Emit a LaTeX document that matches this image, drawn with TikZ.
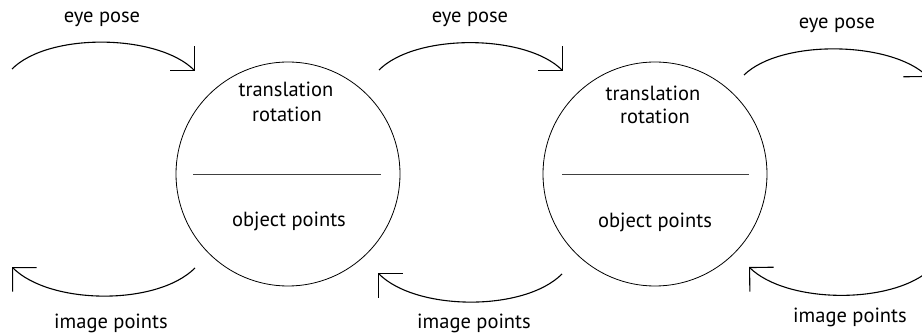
\documentclass[tikz,border=0pt]{standalone}
\usepackage{fontspec}
\setmainfont{PT Sans}
\usetikzlibrary{arrows.meta}
\begin{document}
\begin{tikzpicture}[x=1pt,y=-1pt,
  state/.style={circle,draw,line width=0.8pt,minimum size=224pt,inner sep=0pt},
  divider/.style={line width=0.9pt,draw=black!75},
  flow/.style={line width=1.1pt,-{Straight Barb[length=17pt,width=34pt,line width=1.1pt]}},
  lbl/.style={inner sep=0pt,anchor=base,font=\fontsize{20.5}{22}\selectfont}]
\path[use as bounding box] (0,0) rectangle (922,334);
\clip (0,0) rectangle (922,334);

% two state circles
\node[state] (c1) at (288,174) {};
\node[state] (c2) at (655,174) {};
\draw[divider] ([xshift=-95pt]c1.center) -- ([xshift=93pt]c1.center);
\draw[divider] ([xshift=-93pt]c2.center) -- ([xshift=94pt]c2.center);

\node[lbl] (t1) at (286,97) {translation};
\node[lbl] (r1) at (287,122) {rotation};
\node[lbl] (o1) at (289,227) {object points};
\node[lbl] (t2) at (653,101) {translation};
\node[lbl] (r2) at (655,124) {rotation};
\node[lbl] (o2) at (655,228) {object points};

% connector end points
\coordinate (a1s) at (12,69);   \coordinate (a1e) at (195,71);
\coordinate (a2s) at (379,70);  \coordinate (a2e) at (563,71);
\coordinate (a3s) at (744,75);  \coordinate (a3e) at (928,77);
\coordinate (b1s) at (195,268); \coordinate (b1e) at (12,267);
\coordinate (b2s) at (562,274); \coordinate (b2e) at (378,273);
\coordinate (b3s) at (932,268); \coordinate (b3e) at (749,267);

% upper arcs
\draw[flow] (a1s) .. controls +(37,-37) and +(-37,-37) .. (a1e);
\draw[flow] (a2s) .. controls +(37,-37) and +(-37,-37) .. (a2e);
\draw[flow] (a3s) .. controls +(37,-36) and +(-37,-36) .. (a3e);
% lower arcs
\draw[flow] (b1s) .. controls +(-38,38) and +(38,38) .. (b1e);
\draw[flow] (b2s) .. controls +(-38,38) and +(38,38) .. (b2e);
\draw[flow] (b3s) .. controls +(-38,37) and +(38,37) .. (b3e);

% arc labels
\node[lbl] (e1) at (102,23) {eye pose};
\node[lbl] (e2) at (470,23) {eye pose};
\node[lbl] (e3) at (837,29) {eye pose};
\node[lbl] (i1) at (111,328) {image points};
\node[lbl] (i2) at (474,328) {image points};
\node[lbl] (i3) at (850,322) {image points};
\end{tikzpicture}
\end{document}
